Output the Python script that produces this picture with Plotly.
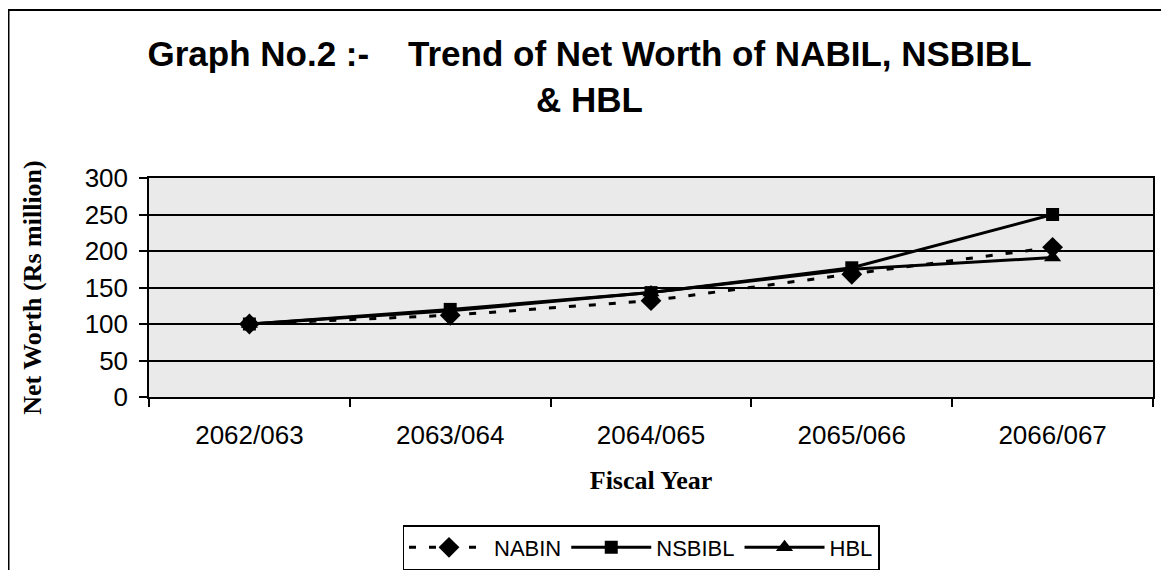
import plotly.graph_objects as go

years = ["2062/063", "2063/064", "2064/065", "2065/066", "2066/067"]
nabin = [100, 112, 132, 168, 205]
nsbibl = [100, 120, 143, 177, 250]
hbl = [100, 118, 143, 175, 191]
y_ticks = [0, 50, 100, 150, 200, 250, 300]

# the page body adds an 8px offset, so figure coords = screen coords - 8
OFF = 8
W, H = 1169, 570
ml, mr, mt, mb = 149 - OFF, 24, 178 - OFF, 181
pw, ph = W - ml - mr, H - mt - mb

fig = go.Figure()
fig.add_trace(go.Scatter(
    x=years, y=nabin, name="NABIN", mode="lines+markers",
    line=dict(color="black", width=3, dash="7px,13px"),
    marker=dict(symbol="diamond", size=16, color="black"),
))
fig.add_trace(go.Scatter(
    x=years, y=nsbibl, name="NSBIBL", mode="lines+markers",
    line=dict(color="black", width=3),
    marker=dict(symbol="square", size=13, color="black"),
))
fig.add_trace(go.Scatter(
    x=years, y=hbl, name="HBL", mode="lines+markers",
    line=dict(color="black", width=3),
    marker=dict(symbol="triangle-up", size=15, color="black"),
))

def px_x(p):
    return (p - OFF - ml) / pw

def px_y(p):
    return (H - mb - (p - OFF)) / ph

fig.update_layout(
    template="none",
    width=W, height=H,
    margin=dict(l=ml, r=mr, t=mt, b=mb, autoexpand=False),
    paper_bgcolor="white",
    plot_bgcolor="#eaeaea",
    font=dict(family="Arial, Liberation Sans, sans-serif", color="black"),
    title=dict(
        text="Graph No.2 :-&nbsp;&nbsp;&nbsp;&nbsp;Trend of Net Worth of NABIL, NSBIBL<br>& HBL",
        x=(589.5 - OFF) / W, xanchor="center", y=1 - 58 / H, yanchor="top",
        font=dict(family="Arial, Liberation Sans, sans-serif", size=35, color="black", weight="bold"),
    ),
    xaxis=dict(
        type="category", range=[-0.5, 4.5], tickson="boundaries", ticks="outside", ticklen=8,
        tickcolor="black", tickwidth=1.5, automargin=False,
        showline=True, linecolor="black", linewidth=1.5, mirror=True,
        showgrid=False, tickfont=dict(size=26),
        ticklabelstandoff=14,
        title=dict(text="<b>Fiscal Year</b>", standoff=22,
                   font=dict(family="Liberation Serif, Times New Roman, serif", size=26)),
    ),
    yaxis=dict(
        range=[0, 300], tickvals=y_ticks, ticks="outside", ticklen=8,
        tickcolor="black", tickwidth=1.5, automargin=False,
        showline=True, linecolor="black", linewidth=1.5, mirror=True,
        showgrid=True, gridcolor="black", gridwidth=1.5,
        zeroline=False, tickfont=dict(size=26), ticklabelstandoff=6,
        title=dict(text="<b>Net Worth (Rs million)</b>", standoff=36,
                   font=dict(family="Liberation Serif, Times New Roman, serif", size=26)),
    ),
    legend=dict(
        orientation="h", x=px_x(641), xanchor="center", y=px_y(525), yanchor="top",
        yref="paper", bordercolor="black", borderwidth=1.5, bgcolor="white",
        font=dict(size=22), itemwidth=80, tracegroupgap=0,
    ),
    shapes=[dict(
        type="rect", xref="paper", yref="paper",
        x0=px_x(8.5), x1=px_x(1167.5), y0=px_y(590), y1=px_y(10),
        line=dict(color="black", width=2), fillcolor="rgba(0,0,0,0)", layer="below",
    )],
)

fig.write_html("out.html")
